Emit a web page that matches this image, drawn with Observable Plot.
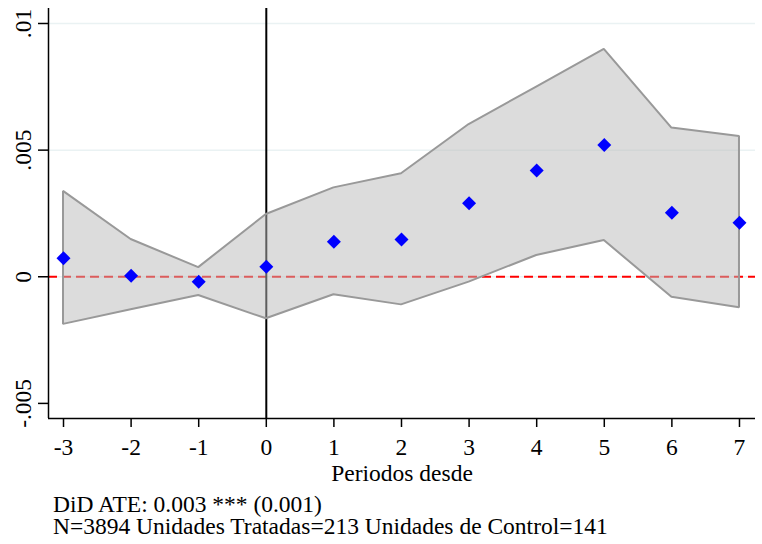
<!DOCTYPE html>
<html>
<head>
<meta charset="utf-8">
<script src="https://cdn.jsdelivr.net/npm/d3@7"></script>
<script src="https://cdn.jsdelivr.net/npm/@observablehq/plot@0.6"></script>
<style>
  html, body { margin: 0; padding: 0; background: #fff; }
  #caption { font-family: "Liberation Serif", serif; font-size: 23.5px; line-height: 22px; margin-left: 53px; color: #000; white-space: nowrap; }
</style>
</head>
<body>
<div id="chart"></div>
<div id="caption">
  <div>DiD ATE: 0.003 *** (0.001)</div>
  <div>N=3894 Unidades Tratadas=213 Unidades de Control=141</div>
</div>
<script>
const periods  = [-3, -2, -1, 0, 1, 2, 3, 4, 5, 6, 7];
const estimate = [0.000735, 0.00004, -0.0002, 0.000395, 0.00138, 0.00147, 0.00290, 0.00420, 0.00520, 0.00253, 0.00213];
const ciUpper  = [0.00337, 0.00147, 0.00036, 0.00246, 0.00351, 0.00407, 0.00601, 0.00749, 0.00898, 0.00587, 0.00554];
const ciLower  = [-0.00188, -0.0013, -0.00074, -0.00166, -0.00071, -0.00111, -0.00021, 0.00084, 0.00143, -0.00081, -0.00122];
const yTicks = [-0.005, 0, 0.005, 0.01];
const yTickLabels = ["-.005", "0", ".005", ".01"];
const gridTicks = [0, 0.005, 0.01];
const xLabel = "Periodos desde";

const data = periods.map((p, i) => ({p, est: estimate[i], lo: ciLower[i], hi: ciUpper[i]}));
const xDom = [-3.222, 7.237];
const yDom = [-0.005596, 0.010592];

const chart = Plot.plot({
  width: 762,
  height: 493,
  marginLeft: 48,
  marginRight: 7,
  marginTop: 8,
  marginBottom: 75,
  style: {fontFamily: "Liberation Serif", fontSize: "23.5px", color: "#000", background: "#fff"},
  x: {domain: xDom},
  y: {domain: yDom},
  marks: [
    Plot.ruleY(gridTicks, {stroke: "#eaf2f3", strokeWidth: 1.5}),
    Plot.ruleY([0], {stroke: "#ff0000", strokeWidth: 2, strokeDasharray: "9,5"}),
    Plot.ruleX([0], {stroke: "#000", strokeWidth: 2}),
    Plot.areaY(data, {x: "p", y1: "lo", y2: "hi", fill: "#bababa", fillOpacity: 0.5, stroke: "#999", strokeWidth: 2, strokeLinejoin: "miter"}),
    Plot.dot(data, {x: "p", y: "est", symbol: "diamond2", r: 6.3, fill: "#0000ff", stroke: "none"}),
    Plot.ruleX([xDom[0]], {stroke: "#000", strokeWidth: 1.5}),
    Plot.ruleY([yDom[0]], {stroke: "#000", strokeWidth: 1.5}),
    Plot.axisY(yTicks, {tickSize: 10, tickPadding: 8, tickRotate: -90, tickFormat: (d) => yTickLabels[yTicks.indexOf(d)], label: null, strokeWidth: 1.5}),
    Plot.axisX(periods, {tickSize: 9, tickPadding: 11, tickFormat: d => String(d), label: xLabel, labelAnchor: "center", labelOffset: 62, labelArrow: "none", strokeWidth: 1.5})
  ]
});
document.getElementById("chart").appendChild(chart);
</script>
</body>
</html>
